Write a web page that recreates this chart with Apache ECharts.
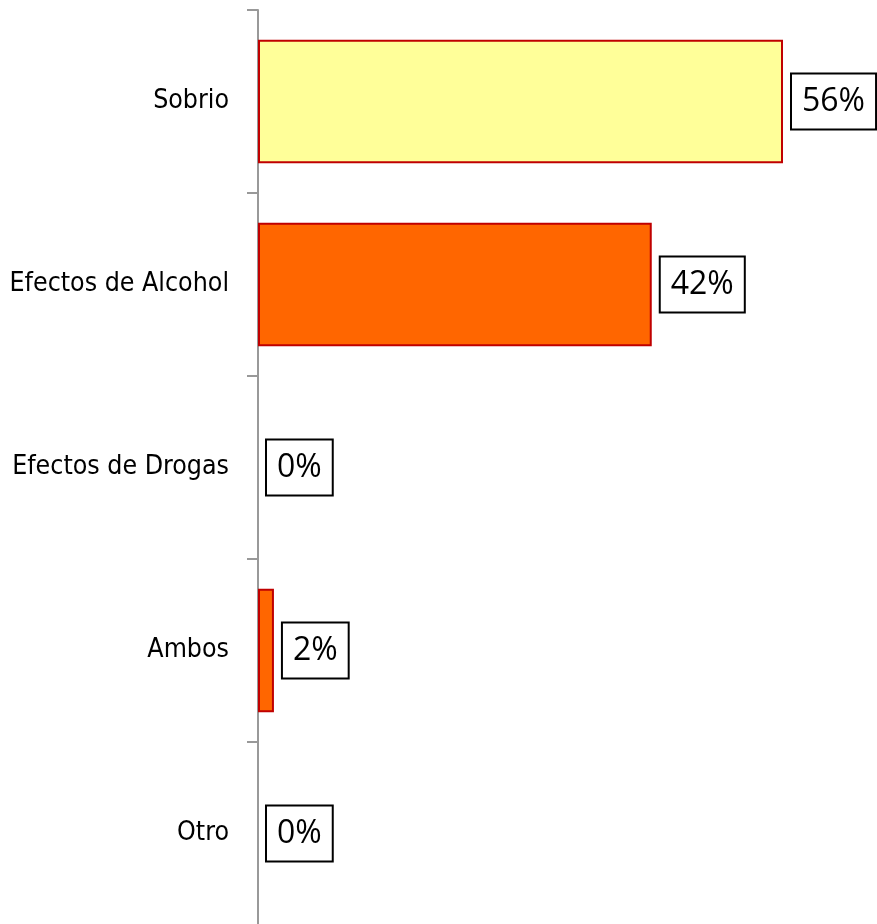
<!DOCTYPE html>
<html>
<head>
<meta charset="utf-8">
<script src="https://cdn.jsdelivr.net/npm/echarts@6/dist/echarts.min.js"></script>
<style>
html,body{margin:0;padding:0;background:#fff;}
#chart{width:877px;height:924px;}
</style>
</head>
<body>
<div id="chart"></div>
<script>
const categories = ['Sobrio', 'Efectos de Alcohol', 'Efectos de Drogas', 'Ambos', 'Otro'];
const values = [56, 42, 0, 1.7, 0];
const barColors = ['#FFFF99', '#FF6600', '#FF6600', '#FF6600', '#FF6600'];

const chart = echarts.init(document.getElementById('chart'));
chart.setOption({
  animation: false,
  grid: { left: 258, right: 56.5, top: 10, bottom: -1, containLabel: false, outerBoundsMode: 'none' },
  xAxis: {
    type: 'value', min: 0, max: 60, show: false
  },
  yAxis: {
    type: 'category', data: categories, inverse: true,
    axisLine: { show: true, lineStyle: { color: '#999999', width: 2 } },
    axisTick: { show: true, length: 11, lineStyle: { color: '#999999', width: 2 } },
    axisLabel: { margin: 29, color: '#000', fontFamily: "'DejaVu Sans Condensed', 'Liberation Sans'", fontSize: 26.5 }
  },
  series: [{
    type: 'bar',
    barWidth: '67.5%',
    data: values.map((v, i) => ({
      value: v,
      itemStyle: { color: barColors[i], borderColor: '#C00000', borderWidth: v > 0 ? 2 : 0 }
    })),
    label: {
      show: true, position: 'right', distance: 9,
      formatter: p => Math.round(p.value) + '%',
      fontFamily: 'Open Sans', fontSize: 32, color: '#000',
      lineHeight: 32,
      backgroundColor: '#fff', borderColor: '#000', borderWidth: 2,
      padding: [11, 10, 11, 10]
    }
  }]
});
</script>
</body>
</html>
